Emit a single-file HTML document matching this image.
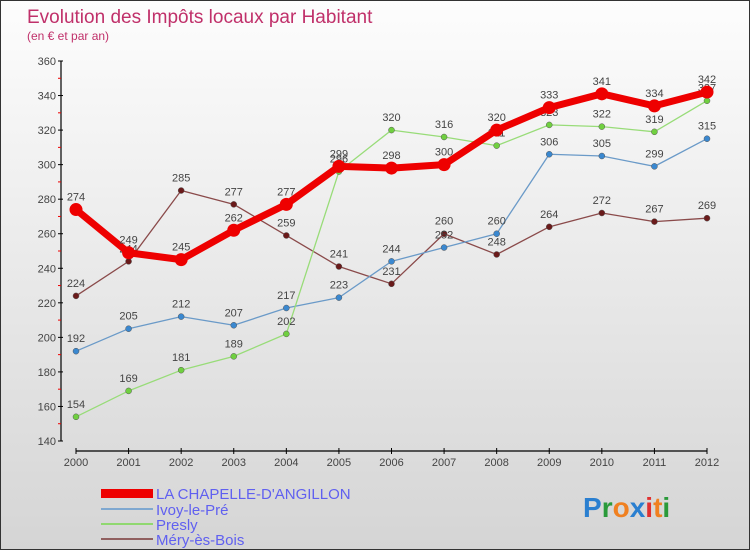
<!DOCTYPE html>
<html><head><meta charset="utf-8"><style>
body{margin:0}
#c{width:750px;height:550px;position:relative;overflow:hidden;box-sizing:border-box;border:1px solid #333;background:linear-gradient(#fdfdfd,#d5d5d5);font-family:"Liberation Sans",sans-serif}
svg{position:absolute;left:0;top:0}
</style></head><body>
<div id="c">
<svg id="s" width="750" height="550">
<text x="26" y="22" font-size="19" fill="#c0306a">Evolution des Impôts locaux par Habitant</text>
<text x="26" y="39" font-size="12" fill="#c0306a">(en € et par an)</text>
<g>
<rect x="100" y="488" width="52" height="9" fill="#e00"/>
<text x="155" y="498" font-size="15" fill="#6060f0">LA CHAPELLE-D'ANGILLON</text>
<rect x="100" y="507" width="52" height="2" fill="#7fa8d0"/>
<text x="155" y="514" font-size="15" fill="#6060f0">Ivoy-le-Pré</text>
<rect x="100" y="522" width="52" height="2" fill="#90d870"/>
<text x="155" y="529" font-size="15" fill="#6060f0">Presly</text>
<rect x="100" y="537" width="52" height="2" fill="#906060"/>
<text x="155" y="544" font-size="15" fill="#6060f0">Méry-ès-Bois</text>
</g>
<g font-size="28" font-weight="bold">
<text x="582" y="516"><tspan fill="#2a7fd0">P</tspan><tspan fill="#2a9a3a">r</tspan><tspan fill="#f08020">o</tspan><tspan fill="#2a7fd0">x</tspan><tspan fill="#e03030">i</tspan><tspan fill="#f08020">t</tspan><tspan fill="#2a9a3a">i</tspan></text>
</g>
</svg>
</div>
<script>
const years=["2000","2001","2002","2003","2004","2005","2006","2007","2008","2009","2010","2011","2012"];
const yTicks=[140,160,180,200,220,240,260,280,300,320,340,360];
const chapelle=[274,249,245,262,277,299,298,300,320,333,341,334,342];
const ivoy=[192,205,212,207,217,223,244,252,260,306,305,299,315];
const presly=[154,169,181,189,202,296,320,316,311,323,322,319,337];
const mery=[224,244,285,277,259,241,231,260,248,264,272,267,269];
const NS="http://www.w3.org/2000/svg";
const s=document.getElementById('s');
const X=i=>75+i*(706-75)/(years.length-1);
const Y=v=>440-(v-140)*(380/220);
function el(t,a,p){const e=document.createElementNS(NS,t);for(const k in a)e.setAttribute(k,a[k]);(p||s).appendChild(e);return e;}
const ax=el('g',{});


let l=el('line',{x1:60,y1:60,x2:60,y2:440,stroke:'#000','stroke-width':1.2},ax);


yTicks.forEach((v,i)=>{
 const t=el('line',{x1:57,x2:62,y1:Y(v),y2:Y(v),stroke:'#000'},ax);
 
 
 const tx=el('text',{x:55,y:Y(v)+4,'font-size':11,fill:'#444','text-anchor':'end'},ax);
 tx.textContent=v;
 
 
 if(i<yTicks.length-1){const m=el('line',{x1:57,x2:60,y1:Y(v+10),y2:Y(v+10),stroke:'#e00'},ax);
 
 }
});
l=el('line',{x1:75,y1:450,x2:706,y2:450,stroke:'#000','stroke-width':1.2},ax);


years.forEach((y,i)=>{
 const t=el('line',{x1:X(i),x2:X(i),y1:447,y2:453,stroke:'#000'},ax);
 
 
 const tx=el('text',{x:X(i),y:465,'font-size':11,fill:'#444','text-anchor':'middle'},ax);
 tx.textContent=y;
 
 
});
function series(name,data,color,w,r,fill){
 const g=el('g',{});
 
 
 const p=el('polyline',{points:data.map((v,i)=>X(i)+','+Y(v)).join(' '),fill:'none',stroke:color,'stroke-width':w,'stroke-linejoin':'round'},g);
 
 
 data.forEach((v,i)=>{
  const c=el('circle',{cx:X(i),cy:Y(v),r:r,fill:fill,stroke:w>3?'none':'#555','stroke-width':0.5},g);
  
  
  const t=el('text',{x:X(i),y:Y(v)-9,'font-size':11,fill:'#444','text-anchor':'middle'},g);
  t.textContent=v;
  
  
 });
}
series('mery',mery,'#8a4a4a',1.3,3,'#6a1a1a');
series('ivoy',ivoy,'#6a9ac8',1.3,3,'#3a88d0');
series('presly',presly,'#98dc78',1.3,3,'#70d040');
series('chapelle',chapelle,'#ee0000',7,6.5,'#ee0000');
</script>
</body></html>
